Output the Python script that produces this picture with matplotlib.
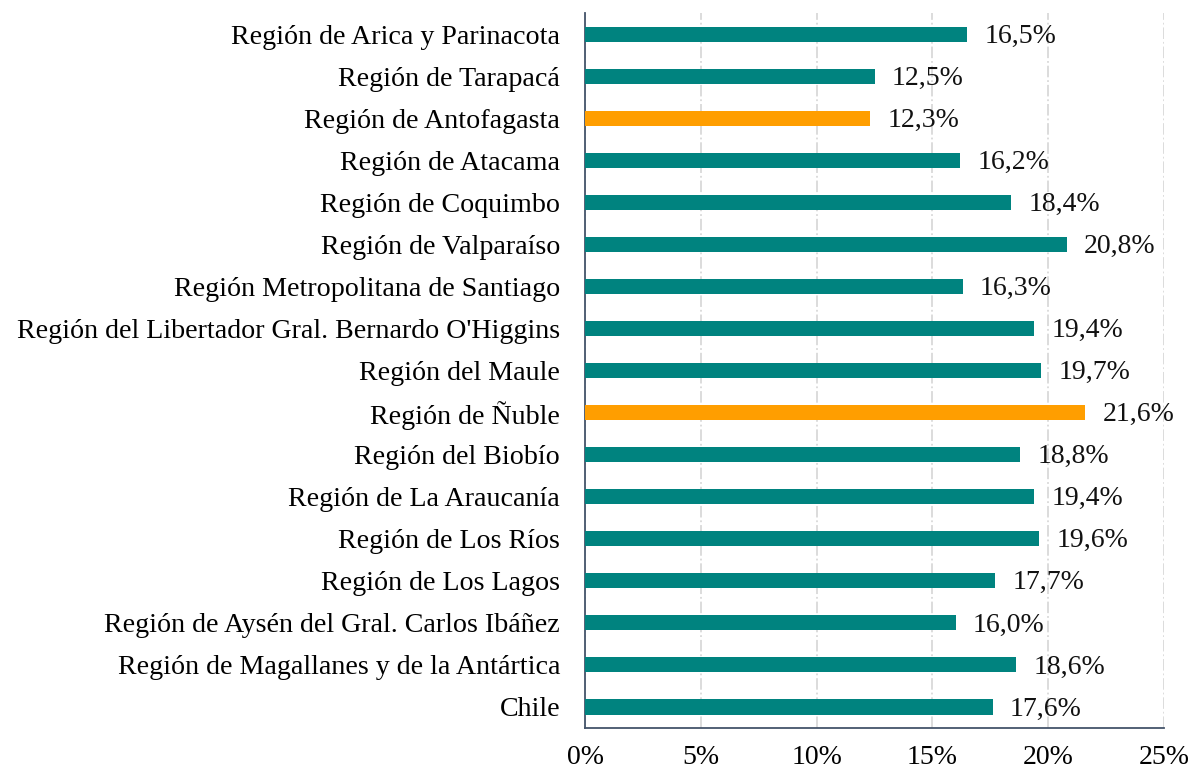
import matplotlib.pyplot as plt
from matplotlib.ticker import FuncFormatter

regiones = [
    "Región de Arica y Parinacota",
    "Región de Tarapacá",
    "Región de Antofagasta",
    "Región de Atacama",
    "Región de Coquimbo",
    "Región de Valparaíso",
    "Región Metropolitana de Santiago",
    "Región del Libertador Gral. Bernardo O'Higgins",
    "Región del Maule",
    "Región de Ñuble",
    "Región del Biobío",
    "Región de La Araucanía",
    "Región de Los Ríos",
    "Región de Los Lagos",
    "Región de Aysén del Gral. Carlos Ibáñez",
    "Región de Magallanes y de la Antártica",
    "Chile",
]
valores = [16.5, 12.5, 12.3, 16.2, 18.4, 20.8, 16.3, 19.4, 19.7, 21.6,
           18.8, 19.4, 19.6, 17.7, 16.0, 18.6, 17.6]
destacadas = ["Región de Antofagasta", "Región de Ñuble"]

TEAL = "#00837F"
ORANGE = "#FF9E00"

plt.rcParams['font.family'] = ['Liberation Serif', 'DejaVu Serif']

fig = plt.figure(figsize=(11.92, 7.71), dpi=100)
ax = fig.add_axes([0.4908, 0.0558, 0.4857, 0.9272])

pos = list(range(len(regiones)))
colores = [ORANGE if r in destacadas else TEAL for r in regiones]
ax.barh(pos, valores, height=0.36, color=colores, zorder=3)

for p, v in zip(pos, valores):
    ax.text(v + 0.75, p + 0.05, f"{v:.1f}%".replace(".", ","), va="center",
            ha="left", fontsize=20, color="#111111")

ax.set_yticks(pos)
ax.set_yticklabels(regiones, fontsize=20.2)
ax.set_ylim(len(regiones) - 0.5, -0.5)
ax.set_xlim(0, 25)
ax.set_xticks([0, 5, 10, 15, 20, 25])
ax.xaxis.set_major_formatter(FuncFormatter(lambda x, _: f"{x:.0f}%"))
ax.tick_params(axis="x", labelsize=20, length=0, pad=12)
ax.tick_params(axis="y", length=0, pad=18)

ax.grid(axis="x", color="#D9D9D9", linestyle="-.", linewidth=1.3, zorder=0)
for s in ["top", "right"]:
    ax.spines[s].set_visible(False)
for s in ["left", "bottom"]:
    ax.spines[s].set_color("#44546A")
    ax.spines[s].set_linewidth(1.3)

fig.savefig("out.png", dpi=100)
